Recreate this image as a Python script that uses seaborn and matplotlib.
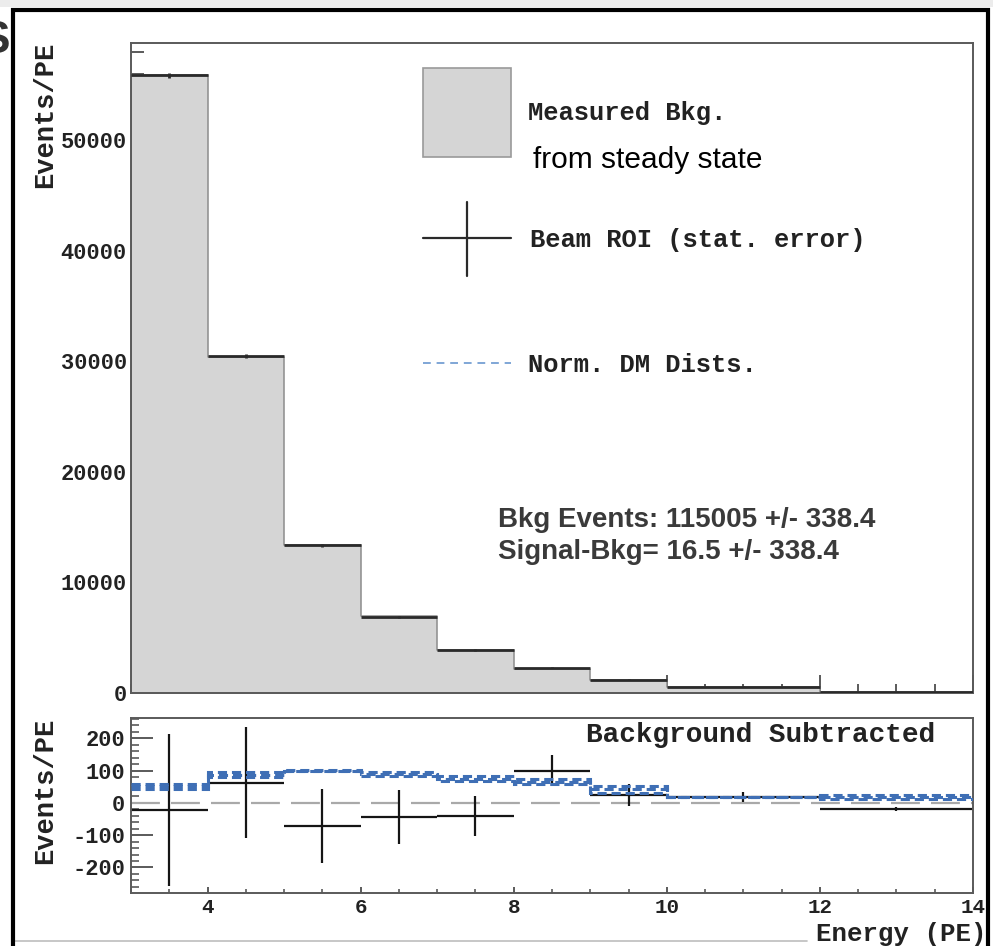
import matplotlib
matplotlib.use("Agg")
import matplotlib.pyplot as plt
import matplotlib.transforms as mtransforms
from matplotlib.patches import Rectangle
from matplotlib.lines import Line2D
from matplotlib.ticker import MultipleLocator, FixedLocator
import numpy as np
import pandas as pd
import seaborn as sns

# ---------------- data ----------------
bin_edges = [3, 4, 5, 6, 7, 8, 9, 10, 12, 14]
bkg_per_pe = [55900, 30420, 13430, 6950, 3920, 2190, 1190, 560, 110]
sub_per_pe = [-22, 63, -71, -43, -40, 100, 25, 19, -19]
stat_err = [234, 172, 115, 83, 62, 47, 34, 16, 7]
dm_low = [44, 80, 100, 84, 68, 58, 32, 19, 12]
dm_mid = [52, 88, 100, 90, 75, 66, 42, 19, 19]
dm_high = [60, 95, 101, 96, 82, 74, 52, 19, 26]
x_tick_labels = ["4", "6", "8", "10", "12", "14"]
legend_labels = ["Measured Bkg.", "Beam ROI (stat. error)", "Norm. DM Dists."]
summary_lines = ["Bkg Events: 115005 +/- 338.4", "Signal-Bkg= 16.5 +/- 338.4"]

edges = np.array(bin_edges, dtype=float)
centers = 0.5 * (edges[:-1] + edges[1:])
half_w = 0.5 * np.diff(edges)
roi_per_pe = np.array(bkg_per_pe) + np.array(sub_per_pe)

# ---------------- style ----------------
sns.set_theme(style="ticks")
plt.rcParams["font.family"] = ["Liberation Mono", "DejaVu Sans Mono"]
plt.rcParams["axes.unicode_minus"] = False
MONO = dict(family="Liberation Mono", weight="bold")

W, H = 993, 946
fig = plt.figure(figsize=(W / 100, H / 100), dpi=100)
fig.patch.set_facecolor("white")
# pixel coordinates measured from the top-left corner of the canvas
px = mtransforms.Affine2D().scale(1 / W, -1 / H).translate(0, 1) + fig.transFigure


def box(l, t, r, b):
    return [l / W, 1 - b / H, (r - l) / W, (b - t) / H]


ax_top = fig.add_axes(box(131, 43, 973, 693))
ax_bot = fig.add_axes(box(131, 718, 973, 893))

SPINE = "#5a5a5a"
for ax in (ax_top, ax_bot):
    for s in ax.spines.values():
        s.set_color(SPINE)
        s.set_linewidth(1.4)
        s.set_visible(True)
    ax.set_facecolor("white")

# ---------------- top pad: background histogram ----------------
bkg_df = pd.DataFrame({"energy": centers, "events": bkg_per_pe})
sns.histplot(data=bkg_df, x="energy", weights="events", bins=bin_edges,
             element="step", fill=True, color="#d5d5d5", edgecolor="#8c8c8c",
             linewidth=1.1, alpha=1.0, ax=ax_top, zorder=1)
ax_top.errorbar(centers, roi_per_pe, xerr=half_w, yerr=stat_err, fmt="none",
                ecolor="#2a2a2a", elinewidth=2.0, capsize=0, zorder=3)
ax_top.set_xlim(3, 14)
ax_top.set_ylim(0, 58800)
ax_top.set_xlabel("")
ax_top.set_ylabel("")
ax_top.yaxis.set_major_locator(MultipleLocator(10000))
ax_top.yaxis.set_minor_locator(MultipleLocator(2000))
ax_top.xaxis.set_major_locator(MultipleLocator(2))
ax_top.xaxis.set_minor_locator(MultipleLocator(0.5))
ax_top.tick_params(axis="y", which="major", direction="in", length=20, width=1.4,
                   color=SPINE, left=True, right=False, pad=3, labelsize=15.8)
ax_top.tick_params(axis="y", which="minor", direction="in", length=9.5, width=1.4,
                   color=SPINE, left=True, right=False)
ax_top.tick_params(axis="x", which="major", direction="in", length=13, width=1.4,
                   color=SPINE, bottom=True, top=False, labelbottom=False)
ax_top.tick_params(axis="x", which="minor", direction="in", length=6.5, width=1.4,
                   color=SPINE, bottom=True, top=False)
for lab in ax_top.get_yticklabels():
    lab.set_fontfamily("Liberation Mono")
    lab.set_fontweight("bold")
    lab.set_color("#222222")

# ---------------- bottom pad: background subtracted ----------------
ax_bot.axhline(0, color="#a9a9a9", lw=1.6, ls=(0, (13, 5)), zorder=1)
ax_bot.errorbar(centers, sub_per_pe, xerr=half_w, yerr=stat_err, fmt="none",
                ecolor="#151515", elinewidth=1.6, capsize=0, zorder=2)
for dm in (dm_low, dm_mid, dm_high):
    ax_bot.stairs(dm, edges, color="#3f6fb5", lw=2.2, ls=(0, (3, 1.6)),
                  baseline=None, zorder=3)
ax_bot.set_xlim(3, 14)
ax_bot.set_ylim(-279, 263)
ax_bot.yaxis.set_major_locator(MultipleLocator(100))
ax_bot.yaxis.set_minor_locator(MultipleLocator(20))
ax_bot.xaxis.set_major_locator(FixedLocator([4, 6, 8, 10, 12, 14]))
ax_bot.xaxis.set_minor_locator(MultipleLocator(0.5))
ax_bot.set_xticklabels(x_tick_labels)
ax_bot.tick_params(axis="y", which="major", direction="in", length=16, width=1.4,
                   color=SPINE, left=True, right=False, pad=4, labelsize=15.8)
ax_bot.tick_params(axis="y", which="minor", direction="in", length=6, width=1.2,
                   color=SPINE, left=True, right=False)
ax_bot.tick_params(axis="x", which="major", direction="in", length=4.5, width=1.4,
                   color=SPINE, bottom=True, top=False, pad=3.5, labelsize=15)
ax_bot.tick_params(axis="x", which="minor", direction="in", length=3, width=1.2,
                   color=SPINE, bottom=True, top=False)
for lab in ax_bot.get_yticklabels() + ax_bot.get_xticklabels():
    lab.set_fontfamily("Liberation Mono")
    lab.set_fontweight("bold")
    lab.set_color("#222222")

# ---------------- axis titles ----------------
fig.text(45, 115, "Events/PE", transform=px, rotation=90, ha="center", va="center",
         fontsize=19.5, color="#222222", **MONO)
fig.text(45, 791, "Events/PE", transform=px, rotation=90, ha="center", va="center",
         fontsize=19.5, color="#222222", **MONO)
fig.text(987, 941, "Energy (PE)", transform=px, ha="right", va="baseline",
         fontsize=18.5, color="#222222", **MONO)
fig.text(935, 742, "Background Subtracted", transform=px, ha="right", va="baseline",
         fontsize=20, color="#222222", **MONO)

# ---------------- legend ----------------
fig.patches.append(Rectangle((423, 68), 88, 89, transform=px, facecolor="#d5d5d5",
                             edgecolor="#9a9a9a", lw=1.2, figure=fig))
fig.lines.append(Line2D([423, 511], [238, 238], transform=px, color="#2a2a2a", lw=1.6))
fig.lines.append(Line2D([467, 467], [202, 276], transform=px, color="#2a2a2a", lw=1.6))
fig.lines.append(Line2D([423, 511], [363, 363], transform=px, color="#7fa6d6", lw=1.4,
                        ls=(0, (4, 3))))
fig.text(528, 120, legend_labels[0], transform=px, ha="left", va="baseline",
         fontsize=18.4, color="#222222", **MONO)
fig.text(533, 168, "from steady state", transform=px, ha="left", va="baseline",
         fontsize=21.5, color="black", family="Liberation Sans")
fig.text(530, 247, legend_labels[1], transform=px, ha="left", va="baseline",
         fontsize=18.4, color="#222222", **MONO)
fig.text(528, 372, legend_labels[2], transform=px, ha="left", va="baseline",
         fontsize=18.4, color="#222222", **MONO)

# ---------------- fit summary ----------------
fig.text(498, 527, summary_lines[0], transform=px, ha="left", va="baseline",
         fontsize=20, color="#3a3a3a", family="Liberation Sans", weight="bold")
fig.text(498, 559, summary_lines[1], transform=px, ha="left", va="baseline",
         fontsize=20, color="#3a3a3a", family="Liberation Sans", weight="bold")

# ---------------- canvas frame ----------------
fig.patches.append(Rectangle((0, 0), W, 7, transform=px, facecolor="#ececec",
                             edgecolor="none", figure=fig))
fig.lines.append(Line2D([15, 807], [941, 941], transform=px, color="#bdbdbd", lw=1.2))
fig.lines.append(Line2D([12.5, 12.5, 988, 988], [H + 5, 10, 10, H + 5], transform=px,
                        color="black", lw=3.0, solid_joinstyle="miter"))
fig.text(-20, 53, "S", transform=px, ha="left", va="baseline", fontsize=33,
         color="#333333", family="Liberation Sans", weight="bold")

fig.savefig("out.png", dpi=100, facecolor="white")
